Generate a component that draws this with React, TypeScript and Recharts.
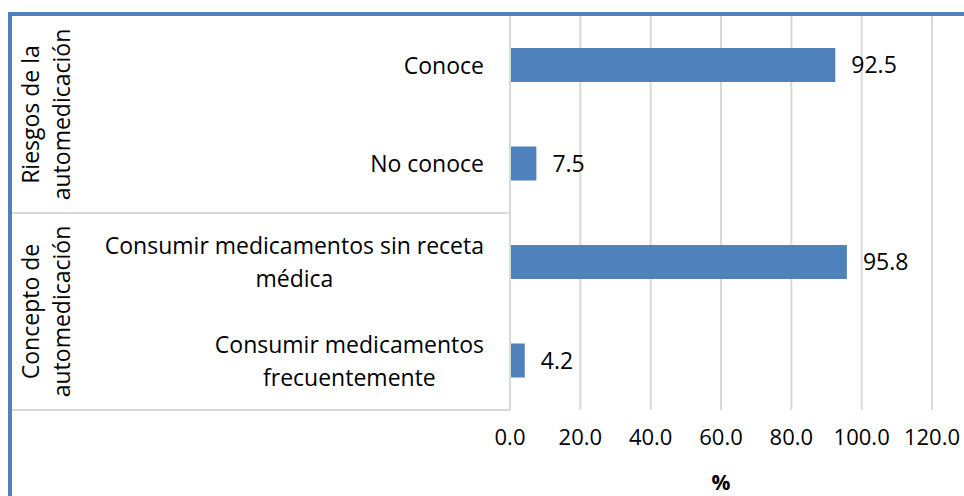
import { BarChart, Bar, XAxis, YAxis, CartesianGrid, LabelList } from 'recharts';

const categories = [
  'Conoce',
  'No conoce',
  'Consumir medicamentos sin receta médica',
  'Consumir medicamentos frecuentemente',
];
const categoryLines = [
  ['Conoce'],
  ['No conoce'],
  ['Consumir medicamentos sin receta', 'médica'],
  ['Consumir medicamentos', 'frecuentemente'],
];
const percentages = [92.5, 7.5, 95.8, 4.2];
const groupLabels = [
  ['Riesgos de la', 'automedicación'],
  ['Concepto de', 'automedicación'],
];
const groupSizes = [2, 2];
const xTicks = [0, 20, 40, 60, 80, 100, 120];
const xTitle = '%';

const W = 964;
const H = 496;
const margin = { top: 16, right: 32, left: 12, bottom: 0 };
const yAxisWidth = 498;
const xAxisHeight = 86;
const FONT = '"Open Sans", sans-serif';
const FS = 23;
const BLUE = '#4f81bd';
const GRID = '#d9d9d9';
const LINE_H = 33;

const data = categories.map((name, i) => ({ name, value: percentages[i] }));

let ctx: CanvasRenderingContext2D | null = null;
function textWidth(s: string) {
  if (!ctx) ctx = document.createElement('canvas').getContext('2d');
  if (!ctx) return s.length * FS * 0.5;
  ctx.font = `${FS}px ${FONT}`;
  return ctx.measureText(s).width;
}

function CategoryTick(props: any) {
  const { x, y, index } = props;
  const lines = categoryLines[index] || [String(props.payload?.value)];
  const maxW = Math.max(...lines.map(textWidth));
  const cx = x - maxW / 2;
  const y0 = y - ((lines.length - 1) * LINE_H) / 2;
  return (
    <text textAnchor="middle" fontFamily={FONT} fontSize={FS} fill="#000">
      {lines.map((l, i) => (
        <tspan key={i} x={cx} y={y0 + i * LINE_H} dy="0.36em">
          {l}
        </tspan>
      ))}
    </text>
  );
}

function ValueTick(props: any) {
  const { x, y, payload } = props;
  return (
    <text x={x} y={y} dy="0.7em" textAnchor="middle" fontFamily={FONT} fontSize={22} fill="#000">
      {Number(payload.value).toFixed(1)}
    </text>
  );
}

function Overlay() {
  const plotTop = margin.top;
  const plotBottom = H - margin.bottom - xAxisHeight;
  const band = (plotBottom - plotTop) / categories.length;
  const axisX = margin.left + yAxisWidth;
  const plotRight = W - margin.right;
  const lineLeft = margin.left;
  let start = 0;
  const items = groupSizes.map((size, g) => {
    const y1 = plotTop + start * band;
    const y2 = plotTop + (start + size) * band;
    start += size;
    const cy = (y1 + y2) / 2;
    const lines = groupLabels[g];
    return (
      <g key={g}>
        {g > 0 && <line x1={lineLeft} x2={axisX} y1={y1} y2={y1} stroke={GRID} strokeWidth={2} />}
        <line x1={lineLeft} x2={axisX} y1={y2} y2={y2} stroke={GRID} strokeWidth={2} />
        <text
          transform={`translate(46, ${cy}) rotate(-90)`}
          textAnchor="middle"
          fontFamily={FONT}
          fontSize={FS}
          fill="#000"
        >
          {lines.map((l, i) => (
            <tspan key={i} x={0} y={(i - (lines.length - 1) / 2) * 31} dy="0.36em">
              {l}
            </tspan>
          ))}
        </text>
      </g>
    );
  });
  return (
    <svg width={W} height={H} style={{ position: 'absolute', left: 0, top: 0, pointerEvents: 'none' }}>
      {items}
      <text
        x={(axisX + plotRight) / 2}
        y={plotBottom + 80}
        textAnchor="middle"
        fontFamily={FONT}
        fontSize={21}
        fontWeight="bold"
        fill="#000"
      >
        {xTitle}
      </text>
    </svg>
  );
}

export default function App() {
  return (
    <div
      style={{
        position: 'absolute',
        left: 0,
        top: 0,
        width: W,
        height: H,
        overflow: 'hidden',
        background: '#fff',
      }}
    >
      <div
        style={{
          position: 'absolute',
          left: 8,
          top: 12,
          width: W,
          height: H,
          borderTop: `4px solid ${BLUE}`,
          borderLeft: `4px solid ${BLUE}`,
        }}
      />
      <div style={{ position: 'absolute', left: 0, top: 0 }}>
        <BarChart width={W} height={H} data={data} layout="vertical" margin={margin} barCategoryGap="0%">
          <CartesianGrid horizontal={false} stroke={GRID} strokeWidth={2} />
          <XAxis
            type="number"
            domain={[0, 120]}
            ticks={xTicks}
            interval={0}
            height={xAxisHeight}
            axisLine={false}
            tickLine={false}
            tickSize={0}
            tickMargin={20}
            tick={<ValueTick />}
          />
          <YAxis
            type="category"
            dataKey="name"
            width={yAxisWidth}
            axisLine={{ stroke: GRID, strokeWidth: 2 }}
            tickLine={false}
            tickSize={0}
            tickMargin={26}
            interval={0}
            tick={<CategoryTick />}
          />
          <Bar dataKey="value" fill={BLUE} barSize={34} isAnimationActive={false}>
            <LabelList
              dataKey="value"
              position="right"
              offset={16}
              formatter={(v: any) => Number(v).toFixed(1)}
              fontFamily={FONT}
              fontSize={FS}
              fill="#000"
            />
          </Bar>
        </BarChart>
      </div>
      <Overlay />
    </div>
  );
}
